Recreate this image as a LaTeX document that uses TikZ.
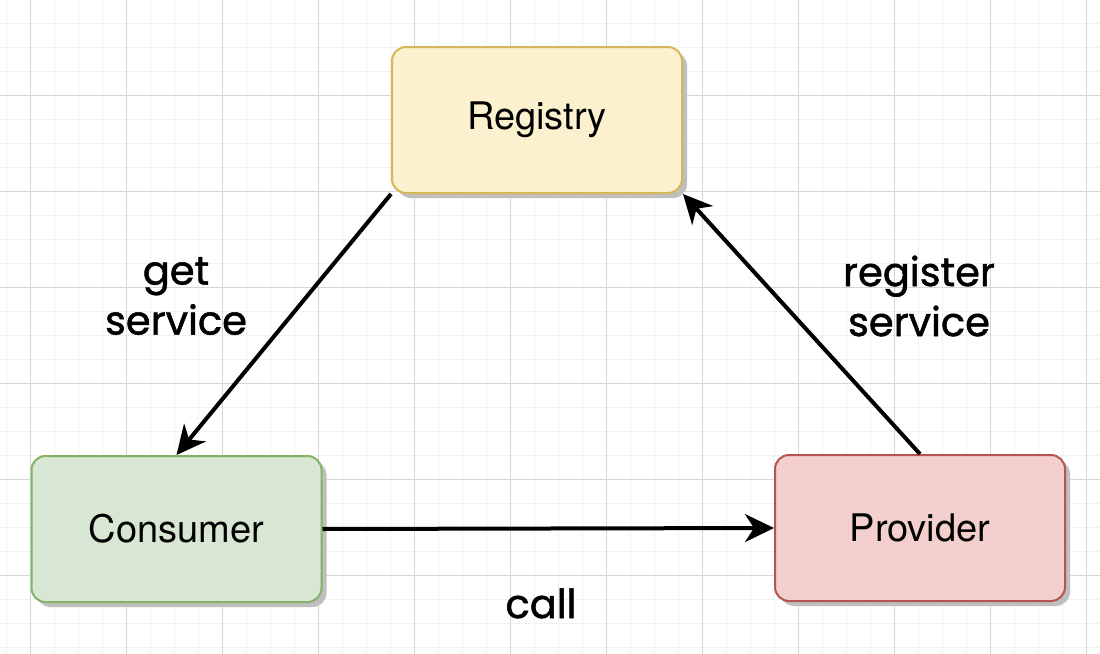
\documentclass[tikz,border=0pt]{standalone}
\usepackage{fontspec}
\setmainfont{TeX Gyre Heros}
\newfontfamily\handfont{Poppins}[FakeBold=1.3]
\usetikzlibrary{arrows.meta,shadows}
\definecolor{regfill}{HTML}{FCF1CE}
\definecolor{regline}{HTML}{D6B656}
\definecolor{confill}{HTML}{D8E7D4}
\definecolor{conline}{HTML}{82B366}
\definecolor{profill}{HTML}{F3CFCE}
\definecolor{proline}{HTML}{B85450}
\definecolor{gridminor}{HTML}{F1F1F1}
\definecolor{gridmajor}{HTML}{D6D6D6}
\begin{document}
\begin{tikzpicture}[x=0.5pt,y=-0.5pt,
  box/.style={rounded corners=7pt, minimum width=145pt, minimum height=73pt,
    line width=1pt, inner sep=0pt, font=\fontsize{19}{23}\selectfont,
    drop shadow={shadow xshift=2.5pt, shadow yshift=-2.5pt, fill=black!25, opacity=1}},
  conn/.style={line width=2pt, -{Stealth[length=14.5pt, width=14pt, inset=4.5pt]}},
  hand/.style={font=\handfont\fontsize{20}{25}\selectfont, align=center, inner sep=0pt}]
\useasboundingbox (0,0) rectangle (1100,654);
\fill[white] (0,0) rectangle (1100,654);
% grid
\foreach \x in {6,30,...,1100} \draw[gridminor, line width=0.5pt] (\x,0) -- (\x,654);
\foreach \y in {-1,23,...,654} \draw[gridminor, line width=0.5pt] (0,\y) -- (1100,\y);
\foreach \x in {30,126,...,1100} \draw[gridmajor, line width=0.5pt] (\x,0) -- (\x,654);
\foreach \y in {95,191,...,654} \draw[gridmajor, line width=0.5pt] (0,\y) -- (1100,\y);
% boxes
\node[box, draw=regline, fill=regfill] (reg) at (537,120) {Registry};
\node[box, draw=conline, fill=confill] (con) at (176.5,529) {Consumer};
\node[box, draw=proline, fill=profill] (pro) at (920,528) {Provider};
% connectors
\draw[conn] (reg.south west) -- (con.north);
\draw[conn] (con.east) -- (pro.west);
\draw[conn] (pro.north) -- (reg.south east);
% labels
\node[hand] (lget) at (176,296) {get\\service};
\node[hand] (lreg) at (919,296) {register\\service};
\node[hand, anchor=base] (lcall) at (541,618) {call};
\end{tikzpicture}
\end{document}
